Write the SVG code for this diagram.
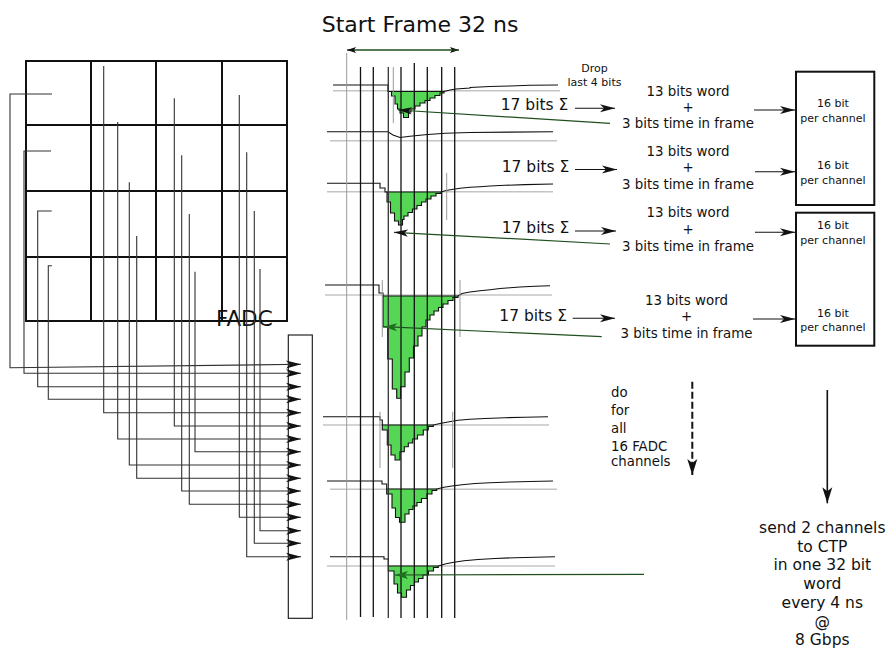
<svg xmlns="http://www.w3.org/2000/svg" width="891" height="656" viewBox="0 0 891 656">
<style>
text{font-family:"DejaVu Sans","Liberation Sans",sans-serif;fill:#111}
.grid{fill:none;stroke:#111;stroke-width:2}
.conn{fill:none;stroke:#333;stroke-width:1.1}
.vl{stroke:#111;stroke-width:1.3}
.vg{stroke:#999;stroke-width:1}
.ref{stroke:#c4c4c4;stroke-width:1.6}
.sig{fill:none;stroke:#111;stroke-width:1.1}
.pulse{fill:#55d655;stroke:#111;stroke-width:1.1;stroke-linejoin:miter}
.tf{fill:none;stroke:#1f4f1f;stroke-width:1.2}
.blk{fill:none;stroke:#111;stroke-width:1.1}
.box{fill:#fff;stroke:#111;stroke-width:2}
.t13{font-size:13.4px;text-anchor:middle}
.t17{font-size:15.5px}
.t16{font-size:11px;text-anchor:middle}
</style>
<defs>
<marker id="ah" markerUnits="userSpaceOnUse" orient="auto" overflow="visible" refX="0" refY="0"><path d="M0,0 L-15,-4 L-11,0 L-15,4 Z" fill="#111"/></marker>
<marker id="ahs" markerUnits="userSpaceOnUse" orient="auto" overflow="visible" refX="0" refY="0"><path d="M0,0 L-14,-3.6 L-10.5,0 L-14,3.6 Z" fill="#111"/></marker>
<marker id="ahg" markerUnits="userSpaceOnUse" orient="auto" overflow="visible" refX="0" refY="0"><path d="M0,0 L-13,-4 L-10,0 L-13,4 Z" fill="#1f6f1f"/></marker>
<marker id="ahsm" markerUnits="userSpaceOnUse" orient="auto" overflow="visible" refX="0" refY="0"><path d="M0,0 L-9,-3 L-7,0 L-9,3 Z" fill="#111"/></marker>
<marker id="ahb" markerUnits="userSpaceOnUse" orient="auto" overflow="visible" refX="0" refY="0"><path d="M0,0 L-16,-5 L-12,0 L-16,5 Z" fill="#111"/></marker>
</defs>

<text x="321.7" y="31.7" style="font-size:22px">Start Frame 32 ns</text>

<g id="fadc-grid">
<rect class="grid" x="26" y="61" width="261" height="260"/>
<line class="grid" x1="91" y1="61" x2="91" y2="321"/>
<line class="grid" x1="156" y1="61" x2="156" y2="321"/>
<line class="grid" x1="222" y1="61" x2="222" y2="321"/>
<line class="grid" x1="26" y1="125" x2="287" y2="125"/>
<line class="grid" x1="26" y1="191" x2="287" y2="191"/>
<line class="grid" x1="26" y1="257" x2="287" y2="257"/>
<text x="216" y="326" style="font-size:21.5px">FADC</text>
</g>

<g id="receiver-box">
<rect x="288.3" y="335" width="24" height="283.3" fill="none" stroke="#111" stroke-width="1.1"/>
</g>

<g id="connectors">
<path class="conn" marker-end="url(#ah)" d="M52,94 H10 V367.7 L301,364.3"/>
<path class="conn" marker-end="url(#ah)" d="M51,151 H24 V373.3 H301"/>
<path class="conn" marker-end="url(#ah)" d="M51.7,211 H37.7 V386.7 H301"/>
<path class="conn" marker-end="url(#ah)" d="M52,265.7 H48.3 V399.3 H301"/>
<path class="conn" marker-end="url(#ah)" d="M103.7,66 V412.7 H301"/>
<path class="conn" marker-end="url(#ah)" d="M174.3,98.3 V426 H301"/>
<path class="conn" marker-end="url(#ah)" d="M117.7,122 V439 H301"/>
<path class="conn" marker-end="url(#ah)" d="M195,271.7 V451.7 H301"/>
<path class="conn" marker-end="url(#ah)" d="M129.3,182.3 V465 H301"/>
<path class="conn" marker-end="url(#ah)" d="M136.7,236 V478.3 H301"/>
<path class="conn" marker-end="url(#ah)" d="M181.7,155.3 V491 H301"/>
<path class="conn" marker-end="url(#ah)" d="M189.3,214 V504.3 H301"/>
<path class="conn" marker-end="url(#ah)" d="M239.3,95 V517.3 H301"/>
<path class="conn" marker-end="url(#ah)" d="M260,269 V530.7 H301"/>
<path class="conn" marker-end="url(#ah)" d="M254.3,211 V543.3 H301"/>
<path class="conn" marker-end="url(#ah)" d="M246.7,152.3 V556.7 H301"/>
</g>

<g id="frame-arrow">
<line x1="347" y1="50" x2="459" y2="50" stroke="#1f4f1f" stroke-width="1.2" marker-end="url(#ahsm)"/>
<line x1="459" y1="50" x2="347" y2="50" stroke="#1f4f1f" stroke-width="1.2" marker-end="url(#ahsm)"/>
</g>

<g id="reference-lines">
<line class="ref" x1="333" y1="90.7" x2="560" y2="90.7"/>
<line class="ref" x1="330" y1="140.7" x2="557" y2="140.7"/>
<line class="ref" x1="327" y1="191.7" x2="553" y2="191.7"/>
<line class="ref" x1="325" y1="295" x2="552" y2="295"/>
<line class="ref" x1="323" y1="425" x2="549" y2="425"/>
<line class="ref" x1="330" y1="489.3" x2="557" y2="489.3"/>
<line class="ref" x1="327" y1="566" x2="555" y2="566"/>
</g>

<g id="pulses">
<path class="pulse" d="M391.5,91.5 H444 V93 H440 V95.5 H435 V98 H430 V100.5 H425 V103 H420 V106 H415 V109 H411 V112 H408.5 V117.5 H403.5 V113 H400 V109 H397.5 V104 H395 V96 H391.5 Z"/>
<path class="pulse" d="M387,192 H441 V193.5 H436 V196 H431 V199 H426 V202 H421.5 V205.5 H417 V209 H412.5 V212.5 H408 V216 H404 V219.5 H402.5 V225 H398.5 V221 H394.5 V213 H390.5 V202 H387 Z"/>
<path class="pulse" d="M383,296 H458 V297.5 H453 V300.5 H448 V304 H443 V307.5 H438.5 V311 H434 V315 H430 V320 H426 V327 H422 V336 H418 V346 H413.5 V358 H409.3 V372 H405 V386.7 H400.7 V398.3 H396.7 V389 H392.3 V359 H387.7 V327 H383 Z"/>
<path class="pulse" d="M382.3,425 H433.3 V426.5 H428.3 V430 H423.3 V435 H417.5 V439 H412.7 V443 H408.3 V446.7 H404.3 V451.7 H400 V460 H395 V455 H391 V445 H387.3 V430 H382.3 Z"/>
<path class="pulse" d="M386.7,489 H436.7 V490.5 H432 V494 H427 V498.5 H421.5 V502.5 H417 V506 H413 V509.5 H409 V514 H405 V522.3 H399.5 V517.5 H395.5 V508 H392 V494 H386.7 Z"/>
<path class="pulse" d="M388.3,566 H438.3 V567.5 H433.5 V571 H428.5 V575 H423 V578.5 H418.5 V582 H414.5 V585.5 H410.5 V590 H406.5 V597.3 H401.5 V593 H397.5 V584 H394 V571 H388.3 Z"/>
</g>

<g id="signals">
<polyline class="sig" points="333,85 388,85 388,91.5 391.5,91.5"/>
<polyline class="sig" points="444,91.5 450,90 456,89 470,88 470,87.5 490,86.5 510,86 530,85.3 558,85"/>
<polyline class="sig" points="327,131.7 388,131.7 393,135 400,137.5 410,136.3 425,134.8 445,133.3 470,132.5 553,131.7"/>
<polyline class="sig" points="327,183.3 380,183.3 380,188 385,188 385,192 387,192"/>
<polyline class="sig" points="441,192 446,190.5 452,189.5 460,188.3 470,187.3 480,186.7 490,186 505,185.3 525,184.6 553,184"/>
<polyline class="sig" points="325,285 379,285 379,293 383,293 383,296"/>
<polyline class="sig" points="458,296 462,293.5 470,292 480,290.7 490,289.7 500,288.5 510,287.8 520,287 535,286.3 550,285.7"/>
<polyline class="sig" points="323,416.7 380,416.7 380,420 382.3,420 382.3,425"/>
<polyline class="sig" points="433.3,425 440,423.5 448,422 458,420.3 470,419.3 485,418.5 505,417.7 525,417.2 548,416.7"/>
<polyline class="sig" points="327,481 382,481 382,484 386.7,484 386.7,489"/>
<polyline class="sig" points="436.7,489 444,487.3 452,486 462,484.7 475,483.5 490,482.7 510,482 530,481.5 553,481"/>
<polyline class="sig" points="330,556.7 384,556.7 384,559 388.3,559 388.3,566"/>
<polyline class="sig" points="438.3,566 446,563.8 454,562.2 464,560.7 478,559.5 495,558.5 515,557.7 535,557.2 555,556.7"/>
</g>

<g id="frame-lines">
<line class="vg" x1="346.7" y1="53" x2="346.7" y2="620"/>
<line class="vl" x1="360.5" y1="67" x2="360.5" y2="617"/>
<line class="vl" x1="373.3" y1="67" x2="373.3" y2="617"/>
<line class="vl" x1="388.3" y1="67" x2="388.3" y2="618" style="stroke:#333"/>
<line class="vl" x1="401" y1="67" x2="401" y2="618"/>
<line class="vl" x1="414.3" y1="63" x2="414.3" y2="618"/>
<line class="vl" x1="427.3" y1="67" x2="427.3" y2="618"/>
<line class="vl" x1="441.7" y1="67" x2="441.7" y2="618"/>
<line class="vl" x1="454.7" y1="67" x2="454.7" y2="618"/>
<line class="vg" x1="393.3" y1="67" x2="393.3" y2="123"/>
<line class="vg" x1="446.7" y1="173" x2="446.7" y2="220"/>
<line class="vg" x1="382.3" y1="280" x2="382.3" y2="337"/>
<line class="vg" x1="460" y1="280" x2="460" y2="337"/>
<line class="vg" x1="380" y1="411.7" x2="380" y2="468"/>
<line class="vg" x1="452.7" y1="411.7" x2="452.7" y2="468"/>
</g>

<g id="time-in-frame-arrows">
<line class="tf" x1="610" y1="123.3" x2="398" y2="110" marker-end="url(#ahs)"/>
<line class="tf" x1="610" y1="244" x2="394" y2="232.3" marker-end="url(#ahs)"/>
<line class="tf" x1="601.7" y1="336.7" x2="384" y2="326.7" marker-end="url(#ahg)"/>
<line class="tf" x1="644" y1="574.3" x2="395" y2="575" marker-end="url(#ahg)"/>
</g>

<g id="sum-labels">
<text x="594.5" y="71.7" style="font-size:11px;text-anchor:middle">Drop</text>
<text x="594.5" y="86" style="font-size:11px;text-anchor:middle">last 4 bits</text>
<text class="t17" x="500.7" y="110">17 bits Σ</text>
<text class="t17" x="501.7" y="171.7">17 bits Σ</text>
<text class="t17" x="501.7" y="233.3">17 bits Σ</text>
<text class="t17" x="499.3" y="320.7">17 bits Σ</text>
<line class="blk" x1="575" y1="108.3" x2="615" y2="108.3" marker-end="url(#ah)"/>
<line class="blk" x1="575" y1="169.5" x2="617" y2="169.5" marker-end="url(#ah)"/>
<line class="blk" x1="575" y1="231" x2="616" y2="231" marker-end="url(#ah)"/>
<line class="blk" x1="572.7" y1="318.3" x2="615" y2="318.3" marker-end="url(#ah)"/>
</g>

<g id="word-labels">
<text class="t13" x="688" y="95.7">13 bits word</text>
<text class="t13" x="688" y="111.7">+</text>
<text class="t13" x="688" y="128.3">3 bits time in frame</text>
<text class="t13" x="688" y="155.7">13 bits word</text>
<text class="t13" x="688" y="172">+</text>
<text class="t13" x="688" y="189">3 bits time in frame</text>
<text class="t13" x="688" y="217.3">13 bits word</text>
<text class="t13" x="688" y="233.5">+</text>
<text class="t13" x="688" y="250.7">3 bits time in frame</text>
<text class="t13" x="686.5" y="305">13 bits word</text>
<text class="t13" x="686.5" y="321.3">+</text>
<text class="t13" x="686.5" y="338.3">3 bits time in frame</text>
<line class="blk" x1="754" y1="110" x2="795" y2="110" marker-end="url(#ah)"/>
<line class="blk" x1="755" y1="171.7" x2="795" y2="171.7" marker-end="url(#ah)"/>
<line class="blk" x1="755" y1="232.3" x2="795" y2="232.3" marker-end="url(#ah)"/>
<line class="blk" x1="753" y1="319" x2="795" y2="319" marker-end="url(#ah)"/>
</g>

<g id="channel-box-1">
<rect class="box" x="796" y="71.7" width="78.3" height="133.3"/>
<text class="t16" x="833" y="107.3">16 bit</text>
<text class="t16" x="833" y="122.3">per channel</text>
<text class="t16" x="833" y="169.3">16 bit</text>
<text class="t16" x="833" y="184">per channel</text>
</g>
<g id="channel-box-2">
<rect class="box" x="796" y="212.7" width="78.3" height="133"/>
<text class="t16" x="833" y="229.3">16 bit</text>
<text class="t16" x="833" y="244.3">per channel</text>
<text class="t16" x="833" y="316.7">16 bit</text>
<text class="t16" x="833" y="330.7">per channel</text>
</g>

<g id="loop-note">
<line x1="692.3" y1="381.7" x2="692.3" y2="475" stroke="#111" stroke-width="2" stroke-dasharray="7,3" marker-end="url(#ahb)"/>
<text x="611" y="397.3" style="font-size:13.3px">do</text>
<text x="611" y="415" style="font-size:13.3px">for</text>
<text x="611" y="432.7" style="font-size:13.3px">all</text>
<text x="611" y="450.7" style="font-size:13.3px">16 FADC</text>
<text x="611" y="466" style="font-size:13.3px">channels</text>
</g>

<g id="send-note">
<line x1="827.3" y1="390" x2="827.3" y2="503.3" stroke="#111" stroke-width="1.6" marker-end="url(#ahb)"/>
<text x="822.3" y="533" style="font-size:15.5px;text-anchor:middle">send 2 channels</text>
<text x="822.3" y="551.7" style="font-size:15.5px;text-anchor:middle">to CTP</text>
<text x="822.3" y="570.4" style="font-size:15.5px;text-anchor:middle">in one 32 bit</text>
<text x="822.3" y="589.1" style="font-size:15.5px;text-anchor:middle">word</text>
<text x="822.3" y="607.8" style="font-size:15.5px;text-anchor:middle">every 4 ns</text>
<text x="822.3" y="626.5" style="font-size:15.5px;text-anchor:middle">@</text>
<text x="822.3" y="645.2" style="font-size:15.5px;text-anchor:middle">8 Gbps</text>
</g>
</svg>
